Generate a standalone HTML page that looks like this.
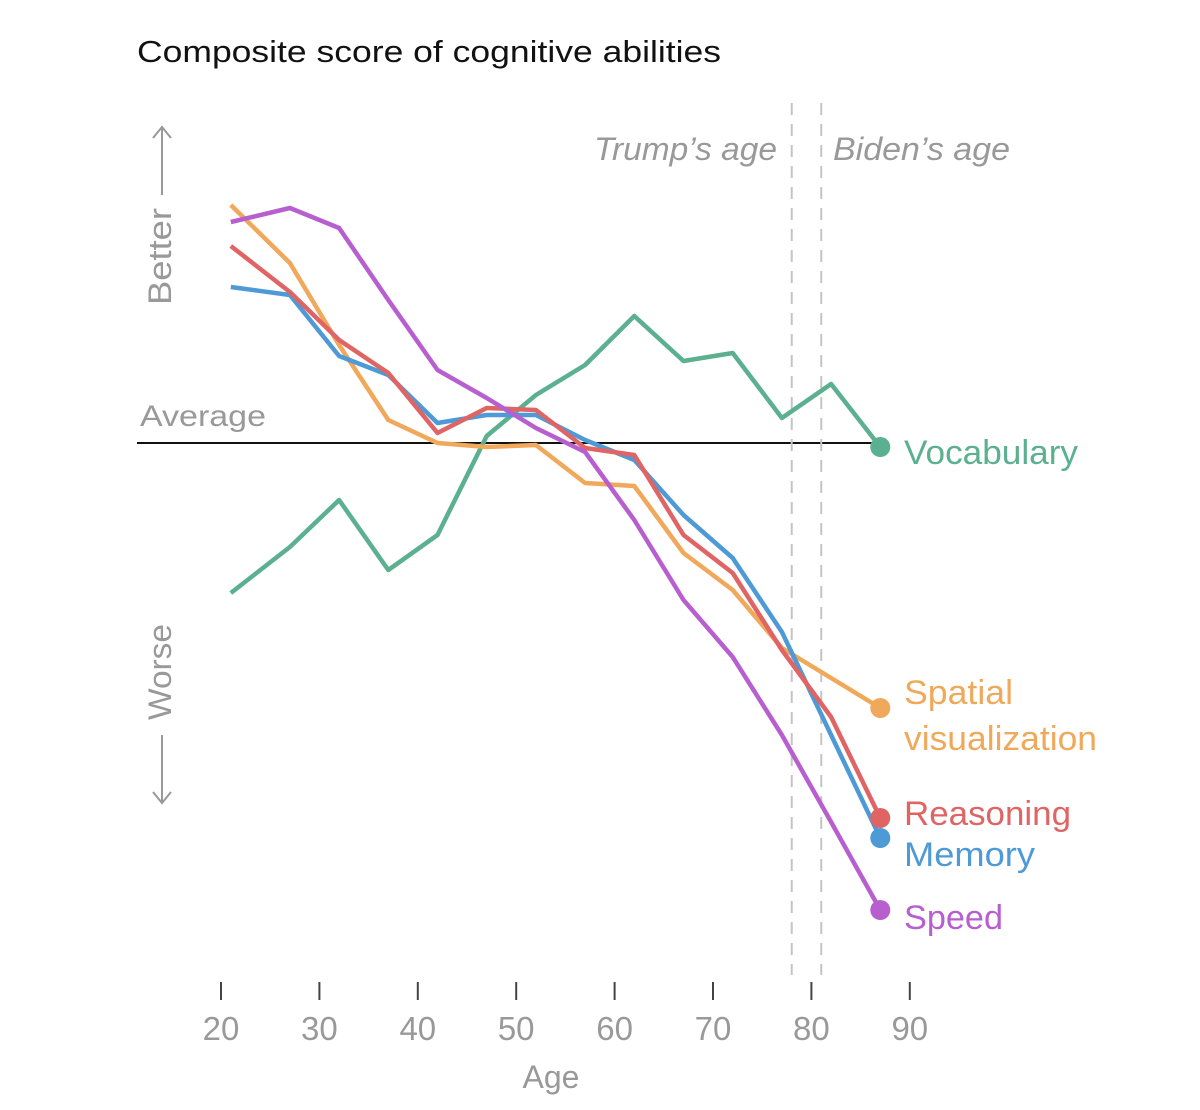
<!DOCTYPE html>
<html><head><meta charset="utf-8"><style>
html,body{margin:0;padding:0;background:#fff}
svg{display:block;font-family:"Liberation Sans",sans-serif}
</style></head><body>
<svg id="chart" width="1200" height="1110" viewBox="0 0 1200 1110">
<text x="137" y="62" font-size="31" fill="#111" textLength="584" lengthAdjust="spacingAndGlyphs">Composite score of cognitive abilities</text>
<g id="ann"></g>
<g id="lines"></g>
<g id="xaxis"></g>
</svg>
<script>
const ages = [21,27,32,37,42,47,52,57,62,67,72,77,82,87];
const vocabulary = [-1.50,-1.04,-0.57,-1.27,-0.92,0.07,0.48,0.78,1.27,0.82,0.90,0.25,0.59,-0.04];
const speed = [2.21,2.35,2.15,1.43,0.73,0.45,0.15,-0.09,-0.77,-1.57,-2.14,-2.92,-3.79,-4.67];
const reasoning = [1.97,1.51,1.03,0.70,0.10,0.35,0.33,-0.05,-0.12,-0.92,-1.30,-2.07,-2.74,-3.75];
const memory = [1.56,1.48,0.87,0.68,0.20,0.28,0.28,0.03,-0.17,-0.72,-1.15,-1.89,-2.92,-3.95];
const spatial = [2.38,1.80,0.98,0.23,0.00,-0.04,-0.02,-0.40,-0.43,-1.10,-1.47,-2.05,-2.35,-2.65];
const tickAges = [20,30,40,50,60,70,80,90];
const trumpAge = 78, bidenAge = 81;

const NS="http://www.w3.org/2000/svg";
const X = a => 221 + (a-20)*9.84;
const Y = v => 443 - v*100;
function mk(tag, attrs, parent, text){
  const e=document.createElementNS(NS,tag);
  for(const k in attrs) e.setAttribute(k,attrs[k]);
  if(text!==undefined) e.textContent=text;
  parent.appendChild(e); return e;
}
const ann=document.getElementById('ann'), lg=document.getElementById('lines'), xa=document.getElementById('xaxis');
const LA='spacingAndGlyphs';

let e=mk('line',{x1:137,x2:882,y1:Y(0),y2:Y(0),stroke:'#111','stroke-width':2},ann);


e=mk('text',{x:140,y:426,'font-size':30,fill:'#999',textLength:126,lengthAdjust:LA},ann,'Average');



[[trumpAge,"Trump’s age",594,183],[bidenAge,"Biden’s age",833,177]].forEach((d,i)=>{
  const x=X(d[0]);
  let l=mk('line',{x1:x,x2:x,y1:103,y2:975,stroke:'#c4c4c4','stroke-width':2,'stroke-dasharray':'12,9'},ann);
  
  
  let t=mk('text',{x:d[2],y:160,'font-size':32,fill:'#999','font-style':'italic',textLength:d[3],lengthAdjust:LA},ann,d[1]);
  
  
});

e=mk('text',{transform:'translate(171,305) rotate(-90)','font-size':32,fill:'#999',textLength:97,lengthAdjust:LA},ann,'Better');


e=mk('text',{transform:'translate(171,720) rotate(-90)','font-size':32,fill:'#999',textLength:96,lengthAdjust:LA},ann,'Worse');


e=mk('path',{d:'M162,195 V128 M153,138 L162,127 L171,138',stroke:'#999','stroke-width':2,fill:'none'},ann);


e=mk('path',{d:'M162,735 V802 M153,792 L162,803 L171,792',stroke:'#999','stroke-width':2,fill:'none'},ann);



const series=[
  ['vocabulary',vocabulary,'#5bb08f',[['Vocabulary',464,174]]],
  ['spatial',spatial,'#f0a85a',[['Spatial',704,109],['visualization',750,193]]],
  ['memory',memory,'#4d9ad6',[['Memory',866,131]]],
  ['reasoning',reasoning,'#e06464',[['Reasoning',825,167]]],
  ['speed',speed,'#b85fd0',[['Speed',929,99]]],
];
series.forEach(s=>{
  const pts=ages.map((a,i)=>X(a).toFixed(1)+','+Y(s[1][i]).toFixed(1)).join(' ');
  let p=mk('polyline',{points:pts,fill:'none',stroke:s[2],'stroke-width':4.5,'stroke-linejoin':'round'},lg);
  
  
  const n=ages.length-1;
  let c=mk('circle',{cx:X(ages[n]),cy:Y(s[1][n]),r:10,fill:s[2]},lg);
  
  
  s[3].forEach(l=>{
    let t=mk('text',{x:904,y:l[1],'font-size':34,fill:s[2],textLength:l[2],lengthAdjust:LA},lg,l[0]);
    
    
  });
});

tickAges.forEach(a=>{
  let t=mk('line',{x1:X(a),x2:X(a),y1:982,y2:1000,stroke:'#444','stroke-width':2},xa);
  
  
  let l=mk('text',{x:X(a),y:1040,'font-size':33,fill:'#999','text-anchor':'middle'},xa,String(a));
  
  
});
e=mk('text',{x:551,y:1088,'font-size':32,fill:'#999','text-anchor':'middle'},xa,'Age');


</script>
</body></html>
